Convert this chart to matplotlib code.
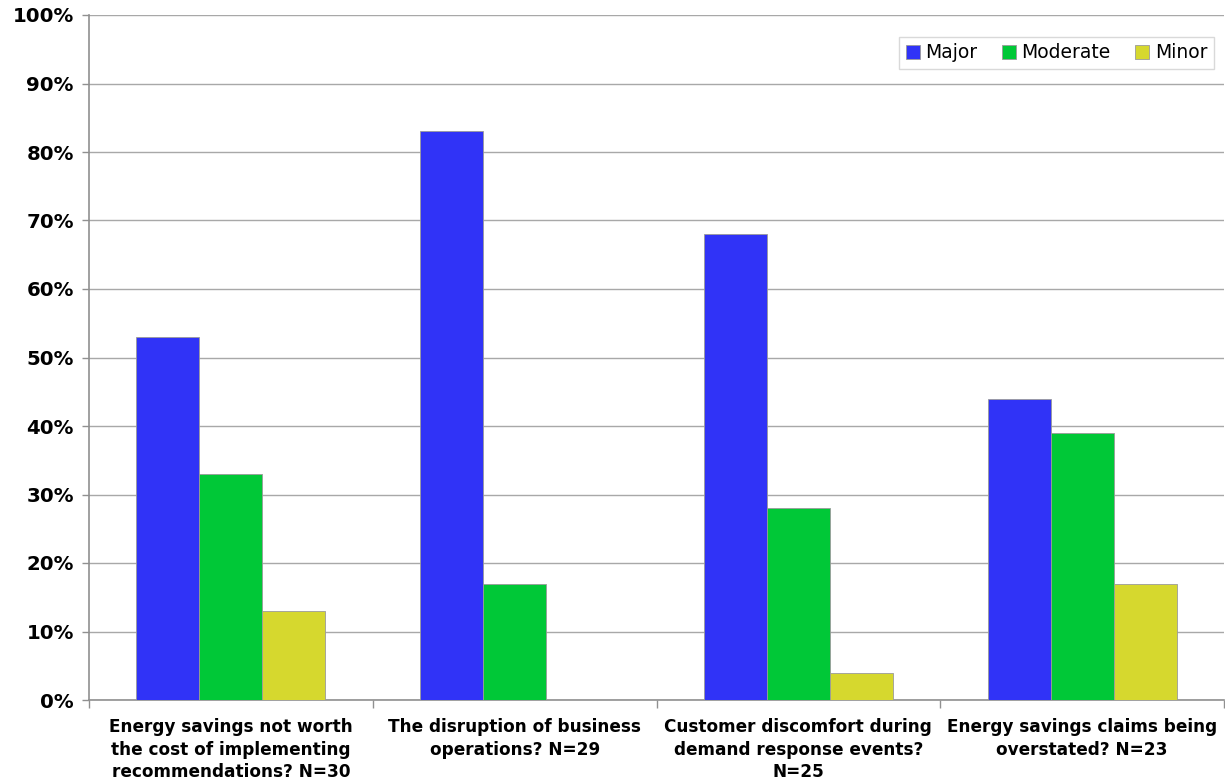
import matplotlib
matplotlib.use("Agg")
import matplotlib.pyplot as plt
import numpy as np

categories = [
    "Energy savings not worth\nthe cost of implementing\nrecommendations? N=30",
    "The disruption of business\noperations? N=29",
    "Customer discomfort during\ndemand response events?\nN=25",
    "Energy savings claims being\noverstated? N=23",
]
series_names = ["Major", "Moderate", "Minor"]
major = [53, 83, 68, 44]
moderate = [33, 17, 28, 39]
minor = [13, 0, 4, 17]
y_ticks = [0, 10, 20, 30, 40, 50, 60, 70, 80, 90, 100]

colors = ["#3033F7", "#00C837", "#D6D82E"]

plt.rcParams["font.family"] = ["DejaVu Sans"]

fig = plt.figure(figsize=(12.25, 7.82), dpi=100)
ax = fig.add_axes([89 / 1225, 1 - 700 / 782, (1224 - 89) / 1225, (700 - 15) / 782])

x = np.arange(len(categories))
width = 0.222
for i, (vals, name) in enumerate(zip([major, moderate, minor], series_names)):
    ax.bar(x + (i - 1) * width, vals, width, color=colors[i], label=name,
           edgecolor="#9a9a9a", linewidth=0.6, zorder=3)

ax.set_xlim(-0.5, len(categories) - 0.5)
ax.set_ylim(0, 100)
ax.set_yticks(y_ticks)
ax.set_yticklabels([f"{v}%" for v in y_ticks], fontsize=14.2, fontweight="bold")
ax.yaxis.grid(True, color="#a8a8a8", linewidth=1.0, zorder=0)
ax.set_axisbelow(True)

ax.set_xticks(np.arange(-0.5, len(categories)))
ax.set_xticklabels([])
ax.tick_params(axis="x", length=6, color="#909090", width=1)
ax.tick_params(axis="y", length=5, color="#909090", width=1, pad=6)
for c, label in zip(x, categories):
    ax.text(c, -2.7, label, ha="center", va="top", fontsize=12.2, fontweight="bold",
            linespacing=1.3, transform=ax.transData)

for side in ["top", "right"]:
    ax.spines[side].set_visible(False)
for side in ["left", "bottom"]:
    ax.spines[side].set_color("#909090")
    ax.spines[side].set_linewidth(1.2)

leg = ax.legend(loc="upper right", bbox_to_anchor=(0.991, 0.968), ncol=3, fontsize=13.5,
                frameon=True, fancybox=False, handlelength=0.75, handleheight=0.75,
                handletextpad=0.3, columnspacing=1.3, borderpad=0.35, borderaxespad=0)
leg.get_frame().set_edgecolor("#d0d0d0")
leg.get_frame().set_linewidth(1.0)

fig.savefig("out.png", dpi=100)
